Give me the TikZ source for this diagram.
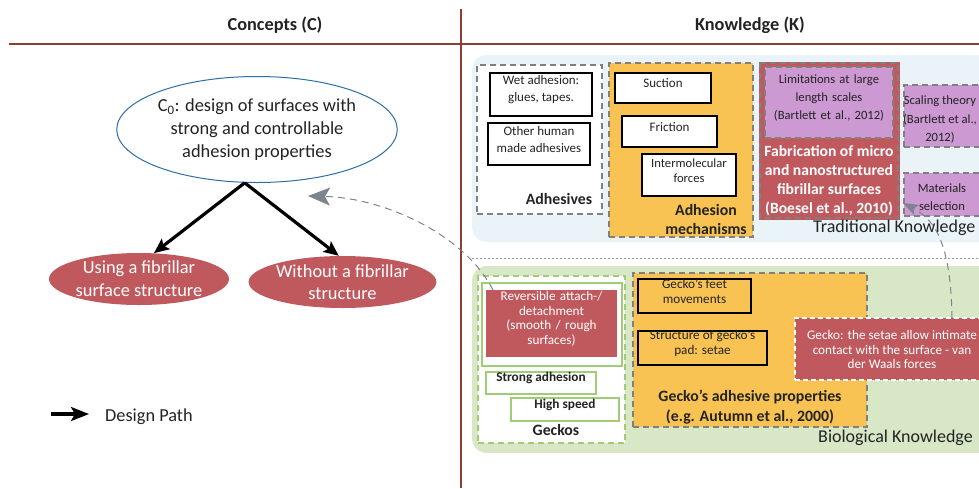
\documentclass[tikz,border=0pt]{standalone}
\usepackage{fontspec}
\setmainfont{Carlito}
\usetikzlibrary{shapes.geometric,arrows.meta,fit,calc}
\definecolor{brn}{RGB}{140,62,52}
\definecolor{cblue}{RGB}{46,110,165}
\definecolor{cred}{RGB}{192,89,94}
\definecolor{corange}{RGB}{248,195,82}
\definecolor{cpurple}{RGB}{204,153,210}
\definecolor{lblue}{RGB}{234,244,248}
\definecolor{lgreen}{RGB}{216,231,198}
\definecolor{cgreen}{RGB}{160,205,115}
\definecolor{dgrey}{RGB}{128,128,128}
\definecolor{agrey}{RGB}{125,132,140}
\definecolor{txt}{RGB}{35,35,35}
\newcommand\fs[2]{\fontsize{#1}{#2}\selectfont}
\tikzset{
  region/.style={inner sep=0pt, outer sep=0pt},
  gdash/.style={draw=dgrey, line width=1.2pt, dash pattern=on 6pt off 4pt},
  blackbox/.style={region, draw=black, line width=1.2pt, text=txt, align=center, font=\fs{13}{17}},
  greenbox/.style={region, draw=cgreen, line width=1.2pt, fill=white, text=txt, align=center},
  lbl/.style={text=txt, align=center, inner sep=0pt},
  design/.style={line width=3.2pt, black, -{Stealth[length=15pt,width=13pt,inset=3pt]}},
  ref/.style={agrey, line width=1pt, dash pattern=on 7pt off 5pt},
  oval/.style={ellipse, inner sep=0pt, align=center},
}
\begin{document}
\begin{tikzpicture}[x=1pt,y=-1pt]
\useasboundingbox (0,0) rectangle (979,488);
\clip (0,0) rectangle (979,488);

% header
\node[lbl, font=\bfseries\fs{18.3}{22}] (hc) at (275,25) {Concepts (C)};
\node[lbl, font=\bfseries\fs{18.3}{22}] (hk) at (750,25) {Knowledge (K)};
\coordinate (hl1) at (9,44); \coordinate (hl2) at (979,44);
\coordinate (vl1) at (461,9); \coordinate (vl2) at (461,488);
\draw[brn, line width=1.5pt] (hl1) -- (hl2);
\draw[brn, line width=1.5pt] (vl1) -- (vl2);

% concepts
\node[oval, draw=cblue, line width=1pt, fill=white, minimum width=274pt, minimum height=106pt,
      font=\fs{18.4}{23}, text=txt] (c0) at (257,129.5)
  {C\textsubscript{0}: design of surfaces with\\strong and controllable\\adhesion properties};
\node[oval, fill=cred, minimum width=180pt, minimum height=52pt, font=\fs{18.4}{23}, text=white]
  (lu) at (139,279) {Using a fibrillar\\surface structure};
\node[oval, fill=cred, minimum width=181pt, minimum height=52pt, font=\fs{18.4}{22}, text=white]
  (wo) at (342.5,282) {Without a fibrillar\\structure};
\draw[design] (c0.257) -- (lu.60);
\draw[design] (c0.257) -- (wo.98);

% legend
\coordinate (lg1) at (51,414); \coordinate (lg2) at (89,414);
\draw[design, -{Stealth[length=18pt,width=14pt,inset=4pt]}] (lg1) -- (lg2);
\node[lbl, anchor=west, font=\fs{18.3}{22}] (lgt) at (105,417) {Design Path};

% ---------- traditional knowledge ----------
\fill[lblue, rounded corners=15pt] (472,55) rectangle (1010,242);
\node[region, fill=white, gdash, fit={(477,65) (602,214)}] (adh) {};
\node[blackbox, fill=white, fit={(490,73) (592,116)}] (wet) {Wet adhesion:\\glues, tapes.};
\node[blackbox, fill=white, fit={(488,123) (590,165)}] (oth) {Other human\\made adhesives};
\node[lbl, font=\bfseries\fs{15.8}{19}] (adhl) at (559,199) {Adhesives};

\node[region, fill=corange, gdash, fit={(609,63) (753,237)}] (mech) {};
\node[blackbox, fill=white, fit={(615,73) (711,103)}] (suc) {Suction};
\node[blackbox, fill=white, fit={(622,116) (717,147)}] (fri) {Friction};
\node[blackbox, fill=white, fit={(642,154) (736,196)}, font=\fs{12.6}{15}] (int) {Intermolecular\\forces};
\node[lbl, font=\bfseries\fs{15.8}{19.5}] (mechl) at (706,219.5) {Adhesion\\mechanisms};

\node[region, fill=cred, draw=cred, line width=3pt, fit={(760,63) (898,218)}] (fab) {};
\draw[gdash] (fab.north west) rectangle (fab.south east);
\node[region, fill=cpurple, gdash, fit={(765,67) (893,138)}, text=txt, align=center,
      font=\fs{12.6}{18}] (lim) {Limitations at large\\length scales\\(Bartlett et al., 2012)};
\node[lbl, text=white, font=\bfseries\fs{15.6}{19}] (fabl) at (829,180.5)
  {Fabrication of micro\\and nanostructured\\fibrillar surfaces\\(Boesel et al., 2010)};

\node[region, fill=cpurple, gdash, fit={(904,85) (1010,147)}] (sca) {};
\node[lbl, font=\fs{12.6}{18.5}] (scal) at (940,119.5) {Scaling theory\\(Bartlett et al.,\\2012)};
\node[region, fill=cpurple, gdash, fit={(904,173) (1010,216)}] (mat) {};
\node[lbl, font=\fs{12.6}{18}] (matl) at (942,197) {Materials\\selection};

\node[lbl, anchor=west, font=\fs{18}{21}] (tkl) at (813,228) {Traditional Knowledge};

% separator
\coordinate (sp1) at (472,258); \coordinate (sp2) at (979,258);
\draw[dgrey!80, line width=1pt, dash pattern=on 2pt off 2pt] (sp1) -- (sp2);

% ---------- biological knowledge ----------
\fill[lgreen, rounded corners=15pt] (472,266) rectangle (1010,453);
\node[region, fill=white, draw=cgreen, line width=1.2pt, dash pattern=on 6pt off 4pt,
      fit={(478,276) (625,443)}] (gek) {};
\node[greenbox, fit={(482,283) (622,366)}] (revo) {};
\node[region, fill=cred, fit={(486,290) (617,357)}, text=white, align=center,
      font=\fs{13.2}{14.6}] (rev) {Reversible attach-/\\detachment\\(smooth / rough\\surfaces)};
\node[greenbox, fit={(486,372) (596,394)}, font=\bfseries\fs{13.3}{15}] (str) {Strong adhesion};
\node[greenbox, fit={(511,398) (619,421)}, font=\bfseries\fs{13.3}{15}] (hsp) {High speed};
\node[lbl, font=\bfseries\fs{15.8}{19}] (gekl) at (556,430) {Geckos};

\node[region, fill=corange, gdash, fit={(633,273) (867,427)}] (gap) {};
\node[blackbox, fill=corange, fit={(638,279) (751,313)}, font=\fs{13.2}{15}] (feet) {Gecko's feet\\movements};
\node[blackbox, fill=corange, fit={(638,331) (767,365)}, font=\fs{13.2}{15}] (stru) {Structure of gecko's\\pad: setae};
\node[lbl, font=\bfseries\fs{15.8}{20}] (gapl) at (750,407) {Gecko's adhesive properties\\(e.g. Autumn et al., 2000)};

\node[region, fill=cred, draw=white, line width=1.2pt, dash pattern=on 5pt off 3pt,
      fit={(795,318) (1010,380)}] (set) {};
\node[lbl, text=white, font=\fs{13.2}{14.6}] (setl) at (892,349.5)
  {Gecko: the setae allow intimate\\contact with the surface - van\\der Waals forces};

\node[lbl, anchor=west, font=\fs{18}{21}] (bkl) at (818,438) {Biological Knowledge};

% ---------- dashed reference arrows ----------
\coordinate (r1s) at (493,290);
\coordinate (r1e) at (308,196);
\draw[ref, -{Stealth[length=22pt,width=18pt,inset=5pt]}] (r1s) .. controls (465,235) and (385,198) .. (r1e);
\coordinate (r2s) at (952,318);
\coordinate (r2e) at (903,203);
\draw[ref, -{Stealth[length=15pt,width=11pt,inset=3pt]}] (r2s) .. controls (951,255) and (940,222) .. (r2e);
\end{tikzpicture}
\end{document}
